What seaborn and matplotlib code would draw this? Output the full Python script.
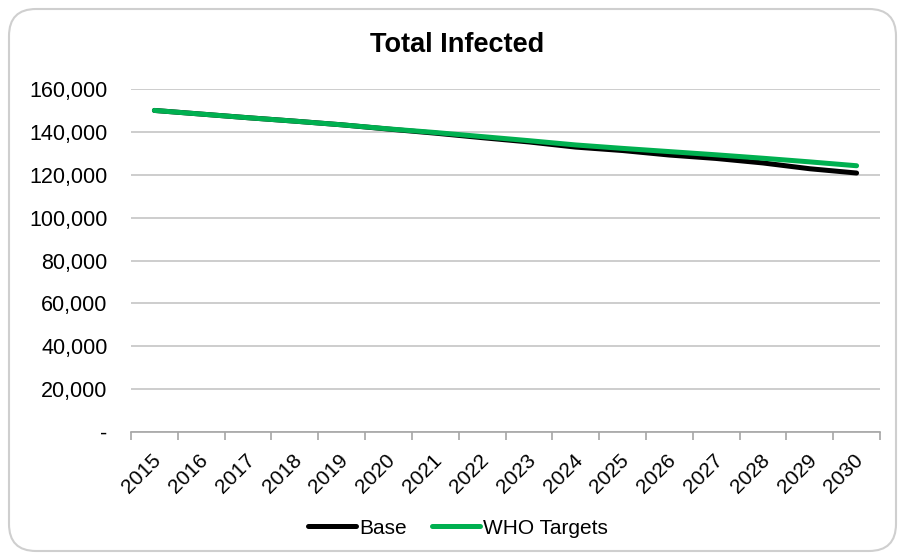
import matplotlib
matplotlib.use("Agg")
import matplotlib.pyplot as plt
from matplotlib.patches import FancyBboxPatch
from matplotlib.ticker import FuncFormatter, FixedLocator
from matplotlib.lines import Line2D
import matplotlib.transforms as mtransforms
import numpy as np
import pandas as pd
import seaborn as sns

years = [2015, 2016, 2017, 2018, 2019, 2020, 2021, 2022,
         2023, 2024, 2025, 2026, 2027, 2028, 2029, 2030]
base = [150000, 148300, 146600, 145000, 143300, 141300, 139400, 137300,
        135300, 132900, 131300, 129200, 127600, 125500, 122800, 120800]
who_targets = [150000, 148300, 146600, 145000, 143300, 141400, 139700, 137800,
               135900, 133900, 132300, 130800, 129300, 127700, 126000, 124200]
series_names = ["Base", "WHO Targets"]
series_colors = ["#000000", "#00B050"]
y_ticks = [0, 20000, 40000, 60000, 80000, 100000, 120000, 140000, 160000]

sns.set_theme(style="white")
plt.rcParams["font.family"] = ["Liberation Sans", "DejaVu Sans"]

W, H = 902, 560
fig = plt.figure(figsize=(W / 100, H / 100), dpi=100)

# rounded chart frame
frame = FancyBboxPatch((9 / W, 9 / H), (896 - 9) / W, (551 - 9) / H,
                       boxstyle="round,pad=0,rounding_size=0.03",
                       transform=fig.transFigure, facecolor="white",
                       edgecolor="#cfcfcf", linewidth=1.5, zorder=-10,
                       mutation_aspect=W / H)
fig.patches.append(frame)

left, right, top, bottom = 131, 880, 89, 432
ax = fig.add_axes([left / W, 1 - bottom / H, (right - left) / W, (bottom - top) / H])
ax.set_facecolor("none")
ax.set_zorder(5)

idx = np.arange(len(years))
df = pd.DataFrame({
    "idx": np.concatenate([idx, idx]),
    "value": base + who_targets,
    "series": [series_names[0]] * len(years) + [series_names[1]] * len(years),
})
sns.lineplot(data=df, x="idx", y="value", hue="series", hue_order=series_names,
             palette=series_colors, linewidth=3.6, ax=ax, legend=False,
             solid_capstyle="round")

ax.set_xlim(-0.5, len(years) - 0.5)
ax.set_ylim(0, 160000)

# gridlines and y labels
ax.yaxis.set_major_locator(FixedLocator(y_ticks))
ax.yaxis.set_major_formatter(FuncFormatter(lambda v, p: "-" if v == 0 else f"{int(v):,}"))
ax.grid(axis="y", color="#c0c0c0", linewidth=1.1)
ax.set_axisbelow(True)
ax.tick_params(axis="y", length=0, pad=17, labelsize=15.5, labelcolor="#000000")

# category axis: ticks at boundaries, labels at centers
ax.set_xticks(idx)
ax.set_xticklabels([str(y) for y in years], rotation=45, ha="right",
                   rotation_mode="anchor", fontsize=15, color="#000000")
ax.set_xticks(np.arange(-0.5, len(years)), minor=True)
ax.tick_params(axis="x", which="major", length=0, pad=6)
ax.tick_params(axis="x", which="minor", length=6, width=1.2, color="#a6a6a6", bottom=True)
shift = mtransforms.ScaledTranslation(-3 / 100, -10 / 100, fig.dpi_scale_trans)
for lbl in ax.get_xticklabels():
    lbl.set_transform(lbl.get_transform() + shift)

for s in ["top", "right", "left"]:
    ax.spines[s].set_visible(False)
ax.spines["bottom"].set_color("#a6a6a6")
ax.spines["bottom"].set_linewidth(1.2)
ax.set_xlabel("")
ax.set_ylabel("")

fig.text(457 / W, 1 - 45 / H, "Total Infected", ha="center", va="center",
         fontsize=19.5, fontweight="bold", color="#000000")

handles = [Line2D([0], [0], color=c, linewidth=3.6, solid_capstyle="round") for c in series_colors]
fig.legend(handles, series_names, loc="center", bbox_to_anchor=(458 / W, 1 - 528 / H),
           ncol=2, frameon=False, fontsize=15, handlelength=2.3, handletextpad=0.15,
           columnspacing=1.2, labelcolor="#000000")

fig.savefig("out.png", dpi=100)
